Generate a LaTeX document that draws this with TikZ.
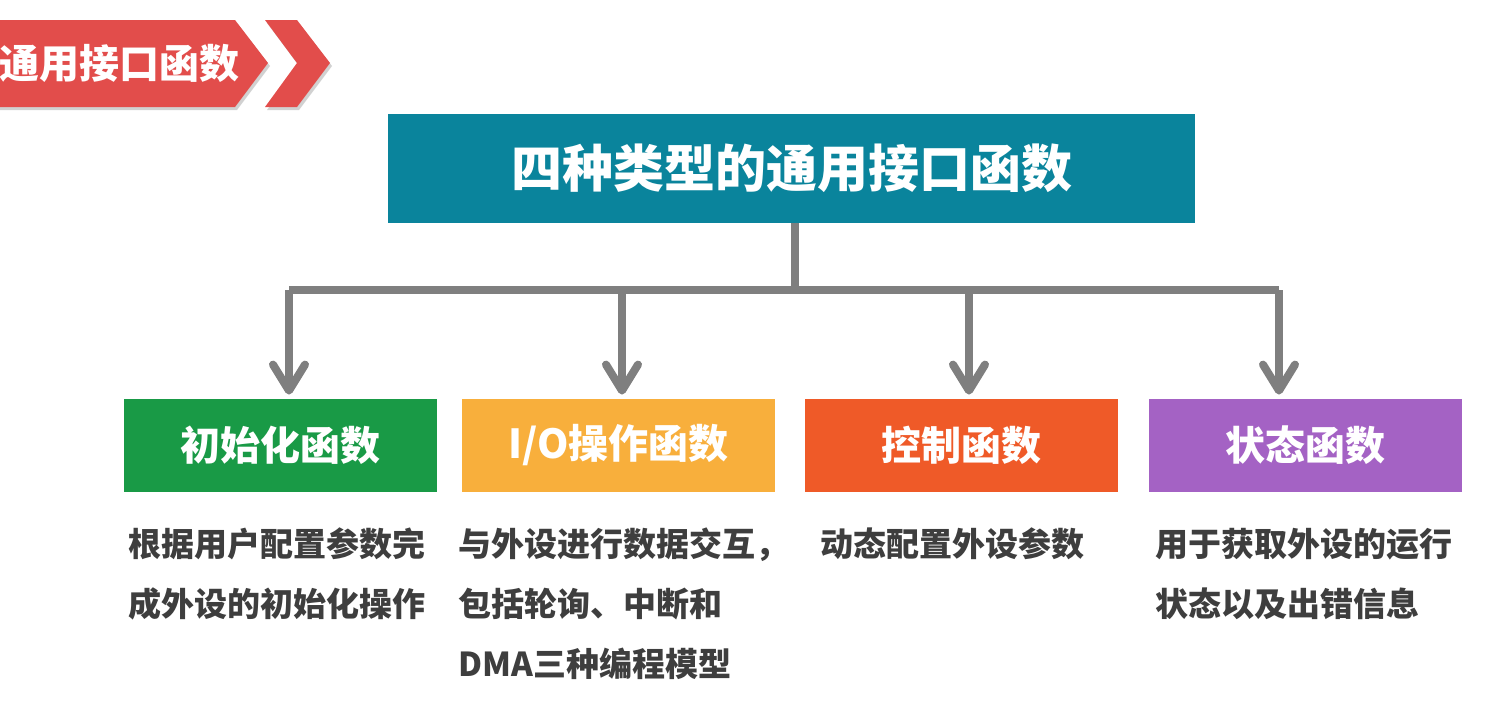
\documentclass[tikz,border=0pt]{standalone}
\usepackage{fontspec}
\setmainfont{Noto Sans CJK SC}
\usetikzlibrary{positioning,arrows.meta}
\usepackage{xcolor}
\definecolor{bannerred}{HTML}{E24D4B}
\definecolor{titleteal}{HTML}{0A849C}
\definecolor{linegray}{HTML}{7F7F7F}
\definecolor{initgreen}{HTML}{199A46}
\definecolor{iogold}{HTML}{F8AF3C}
\definecolor{ctrlorange}{HTML}{EF5A28}
\definecolor{statpurple}{HTML}{A462C4}
\definecolor{desctext}{HTML}{3E3E3E}

\begin{document}
\begin{tikzpicture}[x=0.5pt,y=-0.5pt,>={Straight Barb[length=13pt,width=16pt,round]},
  catbox/.style={minimum width=156.5pt,minimum height=46.5pt,inner sep=0pt,text=white,font=\fontsize{20}{24}\selectfont\bfseries},
  desc/.style={anchor=base west,align=left,inner sep=0pt,text=desctext,font=\fontsize{16.5}{30}\selectfont\bfseries},
  link/.style={draw=linegray,line width=4pt}]
\useasboundingbox (0,0) rectangle (1495,707);
% banner at the top left
\fill[black!18] (-10,23) -- (237,23) -- (270,66) -- (237,110) -- (-10,110) -- cycle;
\fill[black!18] (267,23) -- (299,23) -- (332,66) -- (299,110) -- (267,110) -- (299,66) -- cycle;
\fill[bannerred] (-10,20) -- (235,20) -- (268,63) -- (235,107) -- (-10,107) -- cycle;
\fill[bannerred] (265,20) -- (297,20) -- (330,63) -- (297,107) -- (265,107) -- (297,63) -- cycle;
\node[anchor=east,inner sep=0pt,text=white,font=\fontsize{20}{24}\selectfont\bfseries] (banner) at (240,63) {通用接口函数};
% title and the four kinds
\node[fill=titleteal,minimum width=403.5pt,minimum height=54.5pt,inner sep=0pt,text=white,font=\fontsize{25.5}{30}\selectfont\bfseries] (title) at (791.5,168.5) {四种类型的通用接口函数};
\node[catbox,fill=initgreen] (init) at (280.5,445.5) {初始化函数};
\node[catbox,fill=iogold] (io) at (618.5,445.5) {I/O操作函数};
\node[catbox,fill=ctrlorange] (ctrl) at (961,445.5) {控制函数};
\node[catbox,fill=statpurple] (stat) at (1305,445.5) {状态函数};
% connectors
\coordinate (hub) at (795,290);
\coordinate (a1) at (289,290);
\coordinate (a2) at (622,290);
\coordinate (a3) at (969,290);
\coordinate (a4) at (1279,290);
\draw[link] (title.south -| hub) -- (hub);
\draw[link] (a1) -- (a4);
\foreach \a/\b in {a1/init,a2/io,a3/ctrl,a4/stat}
  \draw[link,->,shorten >=2pt] (\a) -- (\a |- \b.north);
% descriptions (base is the last line)
\node[desc] (initdesc) at (128,616) {根据用户配置参数完\\成外设的初始化操作};
\node[desc] (iodesc) at (458,676) {与外设进行数据交互，\\包括轮询、中断和\\DMA三种编程模型};
\node[desc] (ctrldesc) at (820,556) {动态配置外设参数};
\node[desc] (statdesc) at (1155,616) {用于获取外设的运行\\状态以及出错信息};
\end{tikzpicture}
\end{document}
